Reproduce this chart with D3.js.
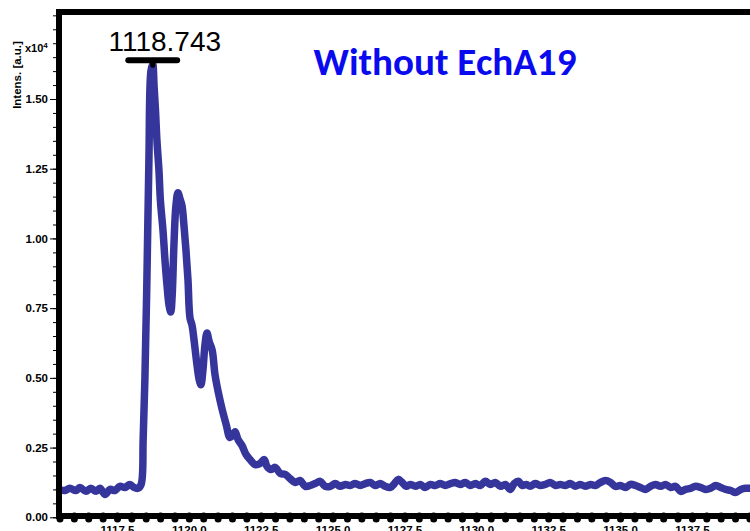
<!DOCTYPE html>
<html>
<head>
<meta charset="utf-8">
<script src="https://cdn.jsdelivr.net/npm/d3@7"></script>
<style>
  html, body { margin: 0; padding: 0; background: #fff; overflow: hidden; }
  svg { display: block; }
</style>
</head>
<body>
<svg id="chart" width="750" height="531"></svg>
<script>
// Mass spectrum: m/z vs intensity (in units of 10^4 a.u.)
const mz = [
  1115.50, 1115.69, 1115.86, 1116.07, 1116.21, 1116.42, 1116.59, 1116.77, 1116.91, 1117.08,
  1117.26, 1117.43, 1117.60, 1117.78, 1117.95, 1118.09, 1118.23, 1118.34, 1118.41, 1118.47,
  1118.54, 1118.61, 1118.68, 1118.743, 1118.79, 1118.84, 1118.89, 1118.96, 1119.01, 1119.10,
  1119.17, 1119.24, 1119.31, 1119.37, 1119.42, 1119.48, 1119.55, 1119.62, 1119.69, 1119.76,
  1119.83, 1119.90, 1119.97, 1120.04, 1120.11, 1120.18, 1120.27, 1120.36, 1120.42, 1120.49,
  1120.56, 1120.63, 1120.71, 1120.81, 1120.91, 1121.02, 1121.16, 1121.30, 1121.43, 1121.54,
  1121.61, 1121.71, 1121.85, 1121.99, 1122.13, 1122.31, 1122.48, 1122.62, 1122.72, 1122.86,
  1123.00, 1123.18, 1123.35, 1123.52, 1123.70, 1123.87, 1124.05, 1124.22, 1124.39, 1124.57,
  1124.74, 1124.92, 1125.09, 1125.26, 1125.44, 1125.61, 1125.79, 1125.96, 1126.14, 1126.31,
  1126.48, 1126.66, 1126.83, 1127.01, 1127.15, 1127.28, 1127.42, 1127.56, 1127.70, 1127.88,
  1128.05, 1128.22, 1128.40, 1128.57, 1128.75, 1128.92, 1129.10, 1129.27, 1129.44, 1129.62,
  1129.79, 1129.97, 1130.14, 1130.31, 1130.49, 1130.66, 1130.84, 1131.01, 1131.18, 1131.32,
  1131.46, 1131.60, 1131.74, 1131.87, 1132.05, 1132.22, 1132.40, 1132.57, 1132.75, 1132.92,
  1133.10, 1133.27, 1133.44, 1133.62, 1133.79, 1133.97, 1134.14, 1134.32, 1134.49, 1134.67,
  1134.84, 1135.01, 1135.19, 1135.36, 1135.54, 1135.71, 1135.89, 1136.06, 1136.23, 1136.41,
  1136.58, 1136.76, 1136.93, 1137.11, 1137.28, 1137.45, 1137.63, 1137.80, 1137.98, 1138.15,
  1138.33, 1138.50, 1138.67, 1138.85, 1139.02, 1139.20, 1139.37, 1139.55
];
const intensity = [
  0.100, 0.096, 0.104, 0.096, 0.107, 0.093, 0.104, 0.093, 0.104, 0.082,
  0.100, 0.096, 0.111, 0.107, 0.118, 0.107, 0.104, 0.118, 0.279, 0.493,
  0.850, 1.279, 1.600, 1.625, 1.546, 1.457, 1.350, 1.243, 1.136, 1.029,
  0.921, 0.832, 0.761, 0.736, 0.796, 0.975, 1.118, 1.164, 1.143, 1.118,
  1.046, 0.957, 0.850, 0.714, 0.689, 0.636, 0.557, 0.493, 0.475, 0.529,
  0.618, 0.661, 0.629, 0.600, 0.511, 0.450, 0.386, 0.332, 0.286, 0.296,
  0.307, 0.279, 0.257, 0.225, 0.207, 0.189, 0.193, 0.207, 0.182, 0.171,
  0.179, 0.157, 0.154, 0.139, 0.125, 0.132, 0.111, 0.114, 0.121, 0.129,
  0.111, 0.111, 0.121, 0.111, 0.118, 0.114, 0.121, 0.114, 0.121, 0.125,
  0.114, 0.121, 0.111, 0.107, 0.121, 0.136, 0.125, 0.111, 0.118, 0.111,
  0.118, 0.107, 0.118, 0.114, 0.121, 0.114, 0.121, 0.125, 0.118, 0.125,
  0.114, 0.121, 0.114, 0.129, 0.118, 0.125, 0.111, 0.118, 0.100, 0.121,
  0.129, 0.114, 0.118, 0.111, 0.121, 0.114, 0.118, 0.125, 0.114, 0.118,
  0.114, 0.121, 0.111, 0.118, 0.111, 0.118, 0.114, 0.125, 0.132, 0.125,
  0.111, 0.114, 0.107, 0.118, 0.114, 0.107, 0.100, 0.111, 0.118, 0.111,
  0.118, 0.107, 0.111, 0.093, 0.100, 0.104, 0.111, 0.107, 0.100, 0.104,
  0.114, 0.107, 0.100, 0.096, 0.089, 0.100, 0.104, 0.104
];

const yTicks = [0, 0.25, 0.5, 0.75, 1.0, 1.25, 1.5];
const xTicks = [1117.5, 1120.0, 1122.5, 1125.0, 1127.5, 1130.0, 1132.5, 1135.0, 1137.5];
const peakMz = 1118.743;
const peakValue = 1.625;
const peakLabel = "1118.743";
const titleText = "Without EchA19";
const yAxisTitle = "Intens. [a.u.]";

const lineColor = "#35359b";
const font = "Arial, 'Liberation Sans', sans-serif";

const svg = d3.select("#chart");
svg.append("rect").attr("width", 750).attr("height", 531).attr("fill", "#fff");

const x = d3.scaleLinear().domain([1115.5, 1139.52]).range([59.5, 750]);
const y = d3.scaleLinear().domain([0, 1.5]).range([517.3, 99]);

const frameLeft = 59, frameTop = 12, frameBottom = 516;

// spectrum trace
const data = mz.map((m, i) => ({ m, v: intensity[i] }));
const line = d3.line().x(d => x(d.m)).y(d => y(d.v)).curve(d3.curveCatmullRom.alpha(0.5));
svg.append("path")
  .datum(data)
  .attr("d", line)
  .attr("fill", "none")
  .attr("stroke", lineColor)
  .attr("stroke-width", 7.5)
  .attr("stroke-linejoin", "round")
  .attr("stroke-linecap", "round");

// minor y ticks
const yMinor = svg.append("g").attr("transform", `translate(${frameLeft - 3},0)`)
  .call(d3.axisLeft(y).tickValues(d3.range(0, 1.81, 0.05)).tickSize(3).tickSizeOuter(0).tickFormat(""));
yMinor.select(".domain").remove();
yMinor.selectAll("line").attr("stroke", "#000").attr("stroke-width", 1);

// major y ticks with labels
const yAxis = svg.append("g").attr("transform", `translate(${frameLeft - 3},0)`)
  .call(d3.axisLeft(y).tickValues(yTicks).tickSize(6).tickPadding(2).tickSizeOuter(0).tickFormat(d3.format(".2f")));
yAxis.select(".domain").remove();
yAxis.selectAll("line").attr("stroke", "#000").attr("stroke-width", 1);
yAxis.selectAll("text")
  .attr("font-family", font).attr("font-weight", "bold").attr("font-size", 11.5).attr("fill", "#000");

// x ticks drawn as rounded nubs under the axis line
const xMinor = svg.append("g").attr("transform", `translate(0,${frameBottom})`)
  .call(d3.axisBottom(x).tickValues(d3.range(1115.5, 1139.6, 0.5)).tickSize(3).tickSizeOuter(0).tickFormat(""));
xMinor.select(".domain").remove();
xMinor.selectAll("line").attr("stroke", "#000").attr("stroke-width", 7).attr("stroke-linecap", "round");

const xAxis = svg.append("g").attr("transform", `translate(0,${frameBottom})`)
  .call(d3.axisBottom(x).tickValues(xTicks).tickSize(0).tickPadding(10).tickSizeOuter(0).tickFormat(d3.format(".1f")));
xAxis.select(".domain").remove();
xAxis.selectAll("text")
  .attr("font-family", font).attr("font-weight", "bold").attr("font-size", 11.5).attr("fill", "#000");

// frame
const frame = svg.append("g").attr("stroke", "#000").attr("stroke-width", 6).attr("fill", "none");
frame.append("line").attr("x1", frameLeft).attr("x2", frameLeft).attr("y1", frameTop - 3).attr("y2", frameBottom + 3);
frame.append("line").attr("x1", frameLeft - 3).attr("x2", 750).attr("y1", frameTop).attr("y2", frameTop);
frame.append("line").attr("x1", frameLeft - 3).attr("x2", 750).attr("y1", frameBottom).attr("y2", frameBottom);

// y axis title and exponent
svg.append("text")
  .attr("transform", `translate(21,75) rotate(-90)`)
  .attr("text-anchor", "middle")
  .attr("font-family", font).attr("font-weight", "bold").attr("font-size", 11.5)
  .text(yAxisTitle);
const expo = svg.append("text")
  .attr("x", 25).attr("y", 52)
  .attr("font-family", font).attr("font-weight", "bold").attr("font-size", 11);
expo.append("tspan").text("x10");
expo.append("tspan").attr("font-size", 8).attr("dy", -4).text("4");

// peak annotation
const px = x(peakMz), py = y(peakValue);
svg.append("line")
  .attr("x1", px).attr("x2", px).attr("y1", py - 4).attr("y2", py + 1)
  .attr("stroke", "#000").attr("stroke-width", 5).attr("stroke-linecap", "round");
svg.append("line")
  .attr("x1", x(peakMz - 0.85)).attr("x2", x(peakMz + 0.85))
  .attr("y1", py - 4).attr("y2", py - 4)
  .attr("stroke", "#000").attr("stroke-width", 6).attr("stroke-linecap", "round");
svg.append("text")
  .attr("x", px + 12).attr("y", py - 13)
  .attr("text-anchor", "middle")
  .attr("font-family", font).attr("font-size", 28).attr("fill", "#000")
  .text(peakLabel);

// title
const title = svg.append("text")
  .attr("x", 445).attr("y", 75)
  .attr("text-anchor", "middle")
  .attr("font-family", "Carlito, Calibri, Lato, sans-serif")
  .attr("font-weight", "bold").attr("font-size", 34)
  .attr("fill", "#0a0aee")
  .text(titleText);
const tw = title.node().getComputedTextLength();
if (tw > 0) title.attr("font-size", 34 * 263 / tw);
</script>
</body>
</html>
